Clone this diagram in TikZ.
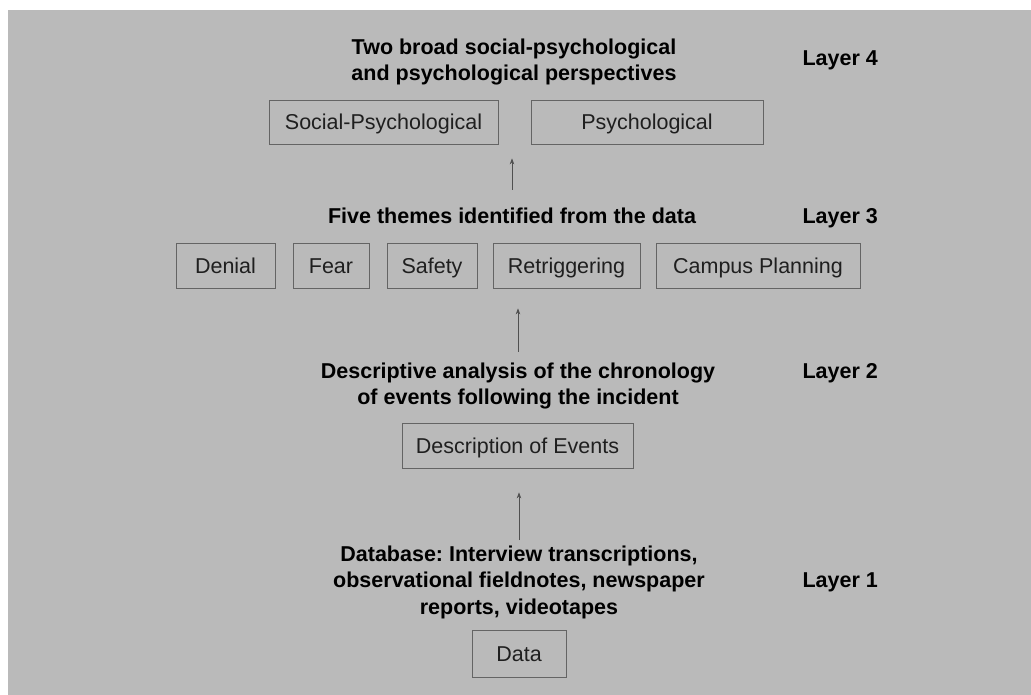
\documentclass[tikz,border=0pt]{standalone}
\usepackage{fontspec}
\setmainfont{Liberation Sans}
\frenchspacing
\usetikzlibrary{arrows.meta}
\definecolor{bg}{RGB}{186,186,186}
\definecolor{boxline}{RGB}{100,100,100}
\definecolor{arrowc}{RGB}{80,80,80}
\tikzset{
  head/.style={font=\fontsize{21.5}{26}\selectfont\bfseries, align=center, inner sep=0pt, text=black, anchor=base},
  layerlbl/.style={font=\fontsize{21.5}{26}\selectfont\bfseries, inner sep=0pt, anchor=base east, text=black},
  tbox/.style={draw=boxline, line width=0.8pt, font=\fontsize{21.5}{26}\selectfont, minimum height=44pt, inner sep=0pt, text height=15.5pt, text depth=0pt, text=black!88},
  arr/.style={draw=arrowc, line width=0.7pt, -{Stealth[length=6pt,width=4.5pt]}},
}
\begin{document}
\begin{tikzpicture}[x=1pt,y=-1pt]
\useasboundingbox (0,0) rectangle (1031,695);
\fill[bg] (8,10) rectangle (1031,695);

% Layer 4 (base anchor = last line baseline)
\node[head] (t4) at (514,80.5) {Two broad social-psychological\\and psychological perspectives};
\node[layerlbl] (l4) at (878,65.5) {Layer 4};
\node[tbox, minimum width=229pt] (sp) at (383.5,122) {Social-Psychological};
\node[tbox, minimum width=232pt] (ps) at (647,122) {Psychological};

% Layer 3
\node[head] (h3) at (512,223.5) {Five themes identified from the data};
\node[layerlbl] (l3) at (878,223.5) {Layer 3};
\node[tbox, minimum width=99pt, minimum height=45pt] (denial) at (225.5,265.5) {Denial};
\node[tbox, minimum width=76pt, minimum height=45pt] (fear) at (331,265.5) {Fear};
\node[tbox, minimum width=90pt, minimum height=45pt] (safety) at (432,265.5) {Safety};
\node[tbox, minimum width=147pt, minimum height=45pt] (retrig) at (566.5,265.5) {Retriggering};
\node[tbox, minimum width=204pt, minimum height=45pt] (campus) at (758,265.5) {Campus Planning};

% Layer 2
\node[head, font=\fontsize{21.5}{25.5}\selectfont\bfseries] (h2) at (518,404) {Descriptive analysis of the chronology\\of events following the incident};
\node[layerlbl] (l2) at (878,378.5) {Layer 2};
\node[tbox, minimum width=231pt, minimum height=45pt] (desc) at (517.5,445.5) {Description of Events};

% Layer 1
\node[head, font=\fontsize{21.5}{26.5}\selectfont\bfseries] (h1) at (519,614) {Database: Interview transcriptions,\\observational fieldnotes, newspaper\\reports, videotapes};
\node[layerlbl] (l1) at (878,587.5) {Layer 1};
\node[tbox, minimum width=94pt, minimum height=47pt] (data) at (519,653.5) {Data};

% Arrows
\draw[arr] ([yshift=5pt]h1.north) -- ([yshift=-24pt]h1.north |- desc.south);
\draw[arr] ([yshift=11pt]h2.north) -- ([yshift=-20pt]h2.north |- retrig.south);
\draw[arr] ([yshift=18pt]h3.north) -- ([yshift=-14pt]h3.north |- sp.south);
\end{tikzpicture}
\end{document}
